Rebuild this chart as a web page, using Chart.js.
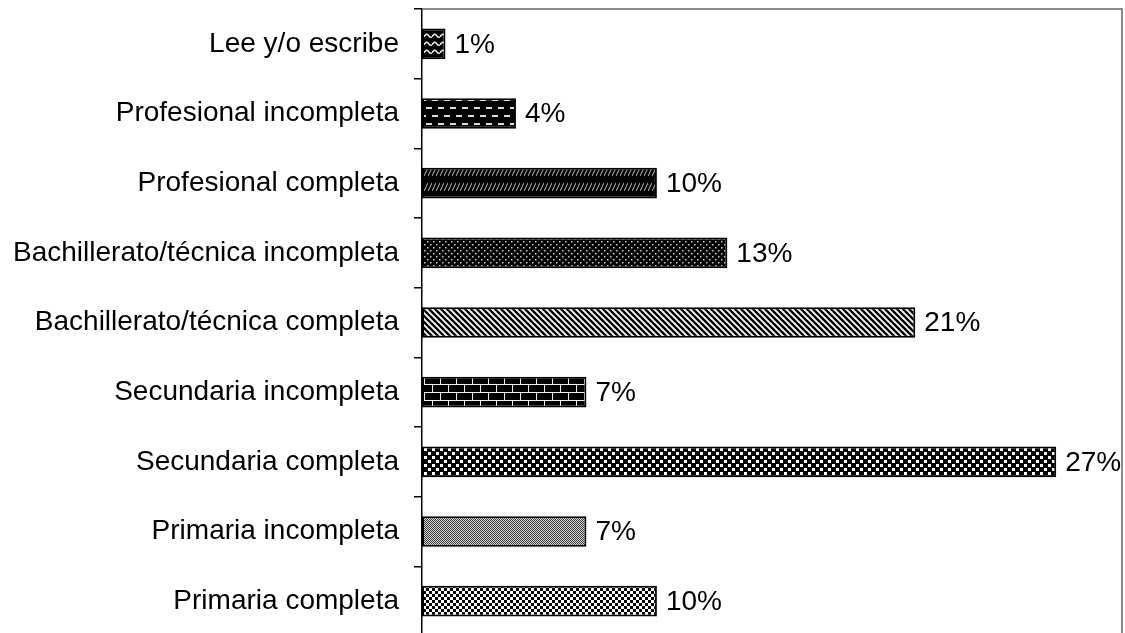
<!DOCTYPE html>
<html>
<head>
<meta charset="utf-8">
<title>Nivel educativo</title>
<script src="https://cdn.jsdelivr.net/npm/chart.js"></script>
<style>
  html, body { margin: 0; padding: 0; background: #fff; overflow: hidden; }
  #wrap { width: 1125px; height: 636px; }
</style>
</head>
<body>
<div id="wrap"><canvas id="chartCanvas"></canvas></div>
<script>
// categories, top to bottom
const categories = [
  'Lee y/o escribe',
  'Profesional incompleta',
  'Profesional completa',
  'Bachillerato/técnica incompleta',
  'Bachillerato/técnica completa',
  'Secundaria incompleta',
  'Secundaria completa',
  'Primaria incompleta',
  'Primaria completa'
];
// percent of people in each level
const percents = [1, 4, 10, 13, 21, 7, 27, 7, 10];
const axisMax = 29.8;

const FONT = '"Liberation Sans", Arial, sans-serif';
const FONT_SIZE = 28;

// small tiles used as fill patterns, one per bar
function tile(w, h, bg, paint) {
  const c = document.createElement('canvas');
  c.width = w; c.height = h;
  const g = c.getContext('2d');
  g.fillStyle = bg;
  g.fillRect(0, 0, w, h);
  paint(g);
  return c.getContext('2d').createPattern(c, 'repeat');
}

const patterns = [
  // wavy
  tile(8, 8, '#000', g => {
    g.strokeStyle = '#eee'; g.lineWidth = 1.5;
    g.beginPath();
    g.moveTo(0, 5); g.quadraticCurveTo(2, 1, 4, 3); g.quadraticCurveTo(6, 6, 8, 5);
    g.stroke();
  }),
  // dashed horizontal
  tile(12, 16, '#000', g => {
    g.fillStyle = '#ddd';
    g.fillRect(0, 3, 6, 2);
    g.fillRect(6, 11, 6, 2);
  }),
  // dashed upward diagonal, two rows
  tile(4, 15, '#000', g => {
    g.strokeStyle = '#bbb'; g.lineWidth = 1;
    g.beginPath(); g.moveTo(0, 11); g.lineTo(4, 3); g.stroke();
  }),
  // small dots
  tile(6, 6, '#000', g => {
    g.fillStyle = '#ccc';
    g.fillRect(1, 1, 1.5, 1.5);
    g.fillRect(4, 4, 1.5, 1.5);
  }),
  // wide downward diagonal
  tile(6, 6, '#fff', g => {
    g.strokeStyle = '#000'; g.lineWidth = 2.4;
    g.beginPath();
    g.moveTo(-3, -3); g.lineTo(9, 9);
    g.moveTo(-3, 3); g.lineTo(3, 9);
    g.moveTo(3, -3); g.lineTo(9, 3);
    g.stroke();
  }),
  // brick
  tile(16, 16, '#000', g => {
    g.fillStyle = '#eee';
    g.fillRect(0, 0, 16, 1);
    g.fillRect(0, 8, 16, 1);
    g.fillRect(0, 0, 1, 8);
    g.fillRect(8, 8, 1, 8);
  }),
  // large confetti
  tile(8, 8, '#000', g => {
    g.fillStyle = '#fff';
    g.fillRect(0, 0, 3, 3);
    g.fillRect(4, 4, 3, 3);
  }),
  // fine 50% grey
  tile(2, 2, '#ddd', g => {
    g.fillStyle = '#333';
    g.fillRect(0, 0, 1, 1);
    g.fillRect(1, 1, 1, 1);
  }),
  // small checkerboard
  tile(6, 6, '#fff', g => {
    g.fillStyle = '#000';
    g.fillRect(0, 0, 3, 3);
    g.fillRect(3, 3, 3, 3);
  })
];

// top and right edges of the plot frame
const frame = {
  id: 'frame',
  afterDraw(chart) {
    const { ctx, chartArea: a } = chart;
    ctx.save();
    ctx.strokeStyle = '#666';
    ctx.lineWidth = 1.5;
    ctx.beginPath();
    ctx.moveTo(a.left, a.top);
    ctx.lineTo(a.right, a.top);
    ctx.lineTo(a.right, a.bottom);
    ctx.stroke();
    ctx.restore();
  }
};

// "n%" written after each bar
const valueLabels = {
  id: 'valueLabels',
  afterDatasetsDraw(chart) {
    const ctx = chart.ctx;
    const meta = chart.getDatasetMeta(0);
    ctx.save();
    ctx.font = FONT_SIZE + 'px ' + FONT;
    ctx.fillStyle = '#000';
    ctx.textAlign = 'left';
    ctx.textBaseline = 'middle';
    meta.data.forEach((bar, i) => {
      ctx.fillText(percents[i] + '%', bar.x + 9, bar.y + 1);
    });
    ctx.restore();
  }
};

new Chart(document.getElementById('chartCanvas'), {
  type: 'bar',
  data: {
    labels: categories,
    datasets: [{
      data: percents,
      backgroundColor: patterns,
      borderColor: '#000',
      borderWidth: 2,
      borderSkipped: false,
      categoryPercentage: 1,
      barPercentage: 0.44
    }]
  },
  options: {
    indexAxis: 'y',
    responsive: true,
    maintainAspectRatio: false,
    animation: false,
    layout: { padding: { top: 9, right: 3, left: 0, bottom: 0 } },
    plugins: {
      legend: { display: false },
      tooltip: { enabled: false }
    },
    scales: {
      x: {
        display: false,
        min: 0,
        max: axisMax
      },
      y: {
        afterFit(scale) {
          scale.width = 422;
          scale.paddingTop = 0;
          scale.paddingBottom = 0;
        },
        border: { display: true, color: '#000', width: 1.5 },
        grid: {
          display: true,
          offset: true,
          drawOnChartArea: false,
          drawTicks: true,
          tickLength: 8,
          color: '#000',
          lineWidth: 1.5
        },
        ticks: {
          color: '#000',
          padding: 15,
          font: { family: FONT, size: FONT_SIZE }
        }
      }
    }
  },
  plugins: [frame, valueLabels]
});
</script>
</body>
</html>
